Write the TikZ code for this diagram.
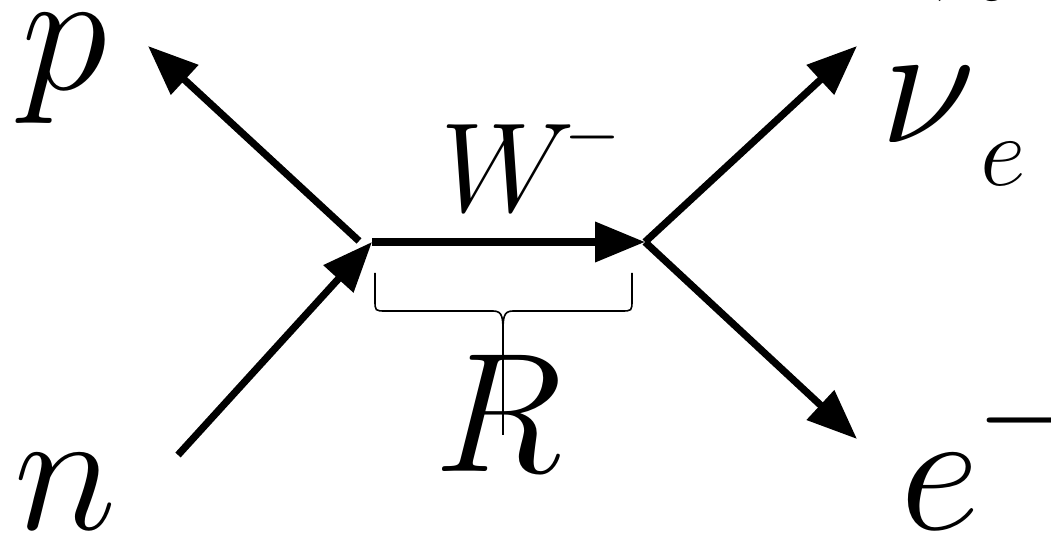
\RequirePackage{fix-cm}
\documentclass[tikz,border=0pt]{standalone}
\usetikzlibrary{arrows.meta}
\begin{document}
\begin{tikzpicture}[x=0.5pt, y=-0.5pt, line join=miter, line cap=butt,
	particle/.style={line width=3.6pt, -{Triangle[length=25pt, width=19.5pt]}},
	lbl/.style={inner sep=0pt, anchor=base, font=\fontsize{87.5}{87.5}\selectfont},
	sup/.style={inner sep=0pt, anchor=center}]
	\useasboundingbox (0,0) rectangle (1051,534);
	\path
	(372,242) coordinate (vL)
	(645,242) coordinate (vR)
	(178,455) coordinate (nS)
	(359,241) coordinate (pS)
	(148,46) coordinate (pE)
	(857,46) coordinate (nuE)
	(857,439) coordinate (eE)
	;
	% legs
	\draw[particle] (nS) -- (vL);
	\draw[particle] (pS) -- (pE);
	\draw[particle] (vL) -- (vR);
	\draw[particle] (vR) -- (nuE);
	\draw[particle] (vR) -- (eE);
	
	% brace under the propagator
	\draw[line width=0.8pt] (375,273) -- (375,300) .. controls (375,311) .. (386,311)
		-- (493,311) .. controls (503,311) and (503,318) .. (503,335) -- (503,435);
	\draw[line width=0.8pt] (632,273) -- (632,300) .. controls (632,311) .. (621,311)
		-- (513,311) .. controls (503,311) and (503,318) .. (503,335);
	
	% labels
	\node[lbl] (p) at (64,90) {$p$};
	\node[lbl] (n) at (66,530) {$n$};
	\node[lbl, font=\fontsize{63.5}{63.5}\selectfont] (W) at (508,212) {$W$};
	\node[sup, font=\fontsize{36}{36}\selectfont] (Wm) at (592,138) {$-$};
	\node[lbl, font=\fontsize{85}{85}\selectfont] (R) at (499,472) {$R$};
	\node[lbl] (e) at (940,530) {$e$};
	\node[sup, font=\fontsize{64}{64}\selectfont] (em) at (1026,421) {$-$};
	\node[lbl] (nu) at (928,143) {$\nu$};
	\node[lbl, font=\fontsize{130}{130}\selectfont] (til) at (978,148) {\char"02DC};
	\node[lbl, font=\fontsize{50}{50}\selectfont] (nue) at (1003,186) {$e$};
\end{tikzpicture}
\end{document}
